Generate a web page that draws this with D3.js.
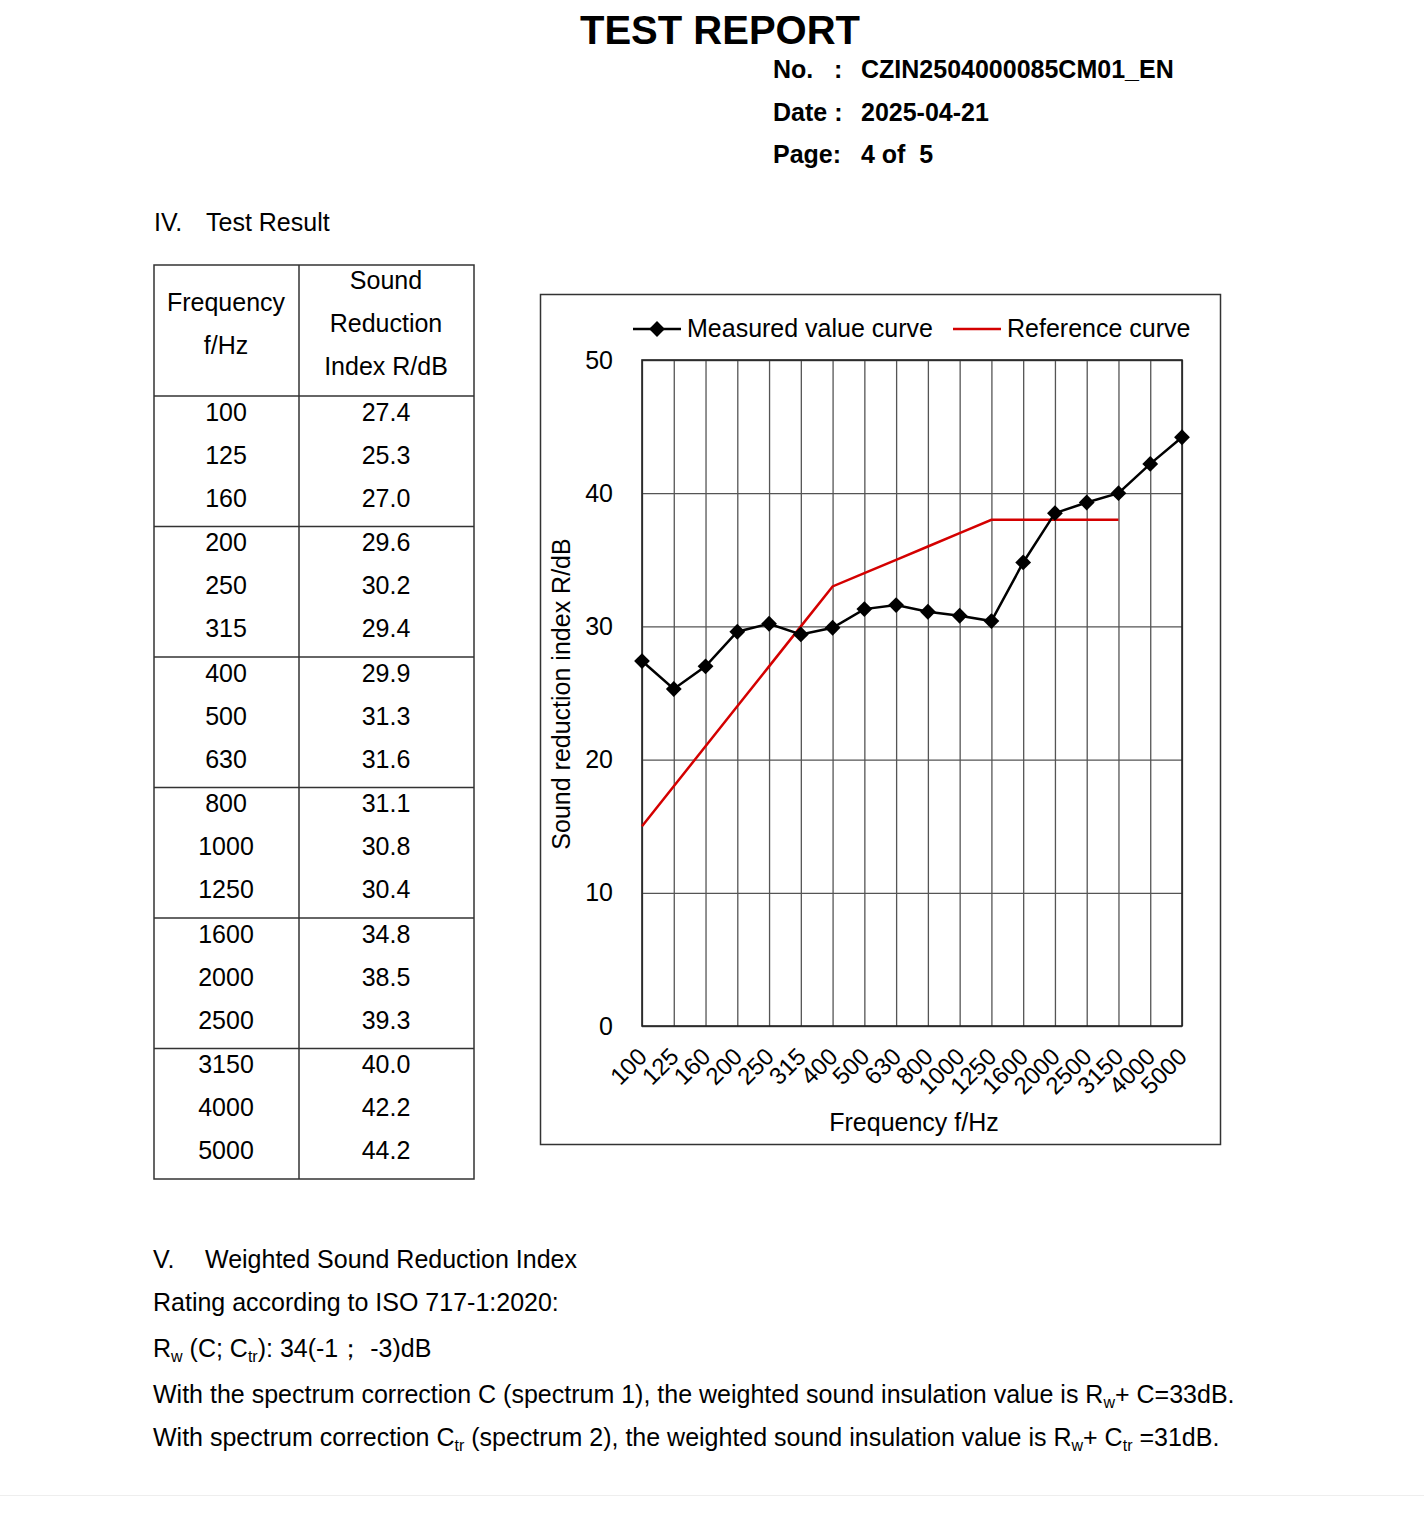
<!DOCTYPE html>
<html>
<head>
<meta charset="utf-8">
<script src="https://cdn.jsdelivr.net/npm/d3@7"></script>
<style>
  body { margin: 0; background: #fff; }
  svg { display: block; font-family: "Liberation Sans", Arial, sans-serif; }
</style>
</head>
<body>
<div id="page"></div>
<script>
// frequency bands, 1/3 octave
var freqLabels = ['100', '125', '160', '200', '250', '315', '400', '500', '630',
  '800', '1000', '1250', '1600', '2000', '2500', '3150', '4000', '5000'];
// measured sound reduction index R/dB
var measured = [27.4, 25.3, 27.0, 29.6, 30.2, 29.4, 29.9, 31.3, 31.6,
  31.1, 30.8, 30.4, 34.8, 38.5, 39.3, 40.0, 42.2, 44.2];
// shifted ISO 717-1 reference curve (100 .. 3150 Hz)
var reference = [15, 18, 21, 24, 27, 30, 33, 34, 35, 36, 37, 38, 38, 38, 38, 38];
var yTicks = [0, 10, 20, 30, 40, 50];

var W = 1424, H = 1531;
var FS = '25px';
var svg = d3.select('#page').append('svg')
  .attr('width', W)
  .attr('height', H);

svg.append('rect').attr('width', W).attr('height', H).attr('fill', '#fff');

// ---- header ----
svg.append('text')
  .attr('x', 720).attr('y', 44)
  .attr('text-anchor', 'middle')
  .attr('font-size', '40px').attr('font-weight', 'bold')
  .text('TEST REPORT');

var headRows = [['No.   :', 'CZIN2504000085CM01_EN'], ['Date :', '2025-04-21'], ['Page:', '4 of  5']];
headRows.forEach(function (r, i) {
  svg.append('text')
    .attr('x', 773).attr('y', 78 + i * 42.5)
    .attr('font-size', FS).attr('font-weight', 'bold')
    .attr('xml:space', 'preserve')
    .text(r[0]);
  svg.append('text')
    .attr('x', 861).attr('y', 78 + i * 42.5)
    .attr('font-size', FS).attr('font-weight', 'bold')
    .attr('xml:space', 'preserve')
    .text(r[1]);
});

svg.append('text').attr('x', 154).attr('y', 231).attr('font-size', FS).text('IV.');
svg.append('text').attr('x', 206).attr('y', 231).attr('font-size', FS).text('Test Result');

// ---- table ----
var tbl = { left: 154, mid: 299, right: 474, top: 265, head: 396, bottom: 1179 };
var groupH = (tbl.bottom - tbl.head) / 6;
var tableG = svg.append('g');

tableG.append('rect')
  .attr('x', tbl.left).attr('y', tbl.top)
  .attr('width', tbl.right - tbl.left).attr('height', tbl.bottom - tbl.top)
  .attr('fill', 'none').attr('stroke', '#333').attr('stroke-width', 1.5);
tableG.append('line')
  .attr('x1', tbl.mid).attr('x2', tbl.mid)
  .attr('y1', tbl.top).attr('y2', tbl.bottom)
  .attr('stroke', '#333').attr('stroke-width', 1.5);
d3.range(6).forEach(function (g) {
  tableG.append('line')
    .attr('x1', tbl.left).attr('x2', tbl.right)
    .attr('y1', tbl.head + g * groupH).attr('y2', tbl.head + g * groupH)
    .attr('stroke', '#333').attr('stroke-width', 1.5);
});

var c1 = 226, c2 = 386;
[['Frequency', 311], ['f/Hz', 354]].forEach(function (t) {
  tableG.append('text').attr('x', c1).attr('y', t[1])
    .attr('text-anchor', 'middle').attr('font-size', FS).text(t[0]);
});
[['Sound', 289], ['Reduction', 332], ['Index R/dB', 375]].forEach(function (t) {
  tableG.append('text').attr('x', c2).attr('y', t[1])
    .attr('text-anchor', 'middle').attr('font-size', FS).text(t[0]);
});

freqLabels.forEach(function (f, i) {
  var g = Math.floor(i / 3), k = i % 3;
  var yb = tbl.head + g * groupH + 24.5 + k * 43;
  tableG.append('text').attr('x', c1).attr('y', yb)
    .attr('text-anchor', 'middle').attr('font-size', FS).text(f);
  tableG.append('text').attr('x', c2).attr('y', yb)
    .attr('text-anchor', 'middle').attr('font-size', FS).text(measured[i].toFixed(1));
});

// ---- chart ----
svg.append('rect')
  .attr('x', 540.5).attr('y', 294.5)
  .attr('width', 680).attr('height', 850)
  .attr('fill', 'none').attr('stroke', '#333').attr('stroke-width', 1.5);

var plot = { left: 642, right: 1182, top: 360, bottom: 1026 };

var x = d3.scalePoint()
  .domain(freqLabels)
  .range([plot.left, plot.right]);

var y = d3.scaleLinear()
  .domain([0, 50])
  .range([plot.bottom, plot.top]);

var chart = svg.append('g');

// vertical grid
chart.append('g')
  .attr('transform', 'translate(0,' + plot.top + ')')
  .call(d3.axisBottom(x).tickSize(plot.bottom - plot.top).tickFormat(''))
  .call(function (g) { g.select('.domain').remove(); })
  .selectAll('line').attr('stroke', '#555').attr('stroke-width', 1.3);

// horizontal grid
chart.append('g')
  .attr('transform', 'translate(' + plot.left + ',0)')
  .call(d3.axisRight(y).tickValues(yTicks).tickSize(plot.right - plot.left).tickFormat(''))
  .call(function (g) { g.select('.domain').remove(); })
  .selectAll('line').attr('stroke', '#555').attr('stroke-width', 1.3);

chart.append('rect')
  .attr('x', plot.left).attr('y', plot.top)
  .attr('width', plot.right - plot.left).attr('height', plot.bottom - plot.top)
  .attr('fill', 'none').attr('stroke', '#222').attr('stroke-width', 1.6);

// y axis labels
var yAxis = chart.append('g')
  .attr('transform', 'translate(' + (plot.left - 29) + ',0)')
  .call(d3.axisLeft(y).tickValues(yTicks).tickSize(0).tickPadding(0));
yAxis.select('.domain').remove();
yAxis.selectAll('text')
  .attr('font-size', FS).attr('fill', '#000')
  .attr('font-family', '"Liberation Sans", Arial, sans-serif');

// x axis labels, rotated
var xAxis = chart.append('g')
  .attr('transform', 'translate(0,' + plot.bottom + ')')
  .call(d3.axisBottom(x).tickSize(0).tickPadding(0));
xAxis.select('.domain').remove();
xAxis.selectAll('text')
  .attr('font-size', '24px').attr('fill', '#000')
  .attr('font-family', '"Liberation Sans", Arial, sans-serif')
  .attr('text-anchor', 'end')
  .attr('dy', '0')
  .attr('y', 0)
  .attr('transform', 'translate(6,32) rotate(-45)');

chart.append('text')
  .attr('x', 914).attr('y', 1131)
  .attr('text-anchor', 'middle').attr('font-size', FS)
  .text('Frequency f/Hz');

chart.append('text')
  .attr('transform', 'translate(570,694) rotate(-90)')
  .attr('text-anchor', 'middle').attr('font-size', FS)
  .text('Sound reduction index R/dB');

// reference curve
var line = d3.line()
  .x(function (d, i) { return x(freqLabels[i]); })
  .y(function (d) { return y(d); });

chart.append('path')
  .datum(reference)
  .attr('d', line)
  .attr('fill', 'none').attr('stroke', '#d40000').attr('stroke-width', 2.5);

// measured curve
chart.append('path')
  .datum(measured)
  .attr('d', line)
  .attr('fill', 'none').attr('stroke', '#000').attr('stroke-width', 2.5);

var diamond = d3.symbol().type(d3.symbolSquare).size(125);
chart.selectAll('.mark')
  .data(measured)
  .enter().append('path')
    .attr('class', 'mark')
    .attr('d', diamond)
    .attr('transform', function (d, i) {
      return 'translate(' + x(freqLabels[i]) + ',' + y(d) + ') rotate(45)';
    })
    .attr('fill', '#000');

// legend
var lg = chart.append('g');
lg.append('line').attr('x1', 633).attr('x2', 681).attr('y1', 329).attr('y2', 329)
  .attr('stroke', '#000').attr('stroke-width', 2.5);
lg.append('path').attr('d', diamond).attr('transform', 'translate(657,329) rotate(45)').attr('fill', '#000');
lg.append('text').attr('x', 687).attr('y', 337).attr('font-size', FS).text('Measured value curve');
lg.append('line').attr('x1', 953).attr('x2', 1001).attr('y1', 329).attr('y2', 329)
  .attr('stroke', '#d40000').attr('stroke-width', 2.5);
lg.append('text').attr('x', 1007).attr('y', 337).attr('font-size', FS).text('Reference curve');

// ---- section V ----
svg.append('text').attr('x', 153).attr('y', 1268).attr('font-size', FS).text('V.');
svg.append('text').attr('x', 205).attr('y', 1268).attr('font-size', FS).text('Weighted Sound Reduction Index');
svg.append('text').attr('x', 153).attr('y', 1311).attr('font-size', FS).text('Rating according to ISO 717-1:2020:');

function richLine(yb, parts) {
  var t = svg.append('text').attr('x', 153).attr('y', yb).attr('font-size', FS)
    .attr('xml:space', 'preserve');
  parts.forEach(function (p) {
    if (typeof p === 'string') {
      t.append('tspan').text(p);
    } else {
      t.append('tspan').attr('font-size', '16px').attr('baseline-shift', '-5').text(p.sub);
    }
  });
}

richLine(1357, ['R', { sub: 'w' }, ' (C; C', { sub: 'tr' }, '): 34(-1\uFF1B -3)dB']);
richLine(1403, ['With the spectrum correction C (spectrum 1), the weighted sound insulation value is R', { sub: 'w' }, '+ C=33dB.']);
richLine(1446, ['With spectrum correction C', { sub: 'tr' }, ' (spectrum 2), the weighted sound insulation value is R', { sub: 'w' }, '+ C', { sub: 'tr' }, ' =31dB.']);

svg.append('line').attr('x1', 0).attr('x2', W).attr('y1', 1495.5).attr('y2', 1495.5)
  .attr('stroke', '#eeeeee').attr('stroke-width', 1);
</script>
</body>
</html>
